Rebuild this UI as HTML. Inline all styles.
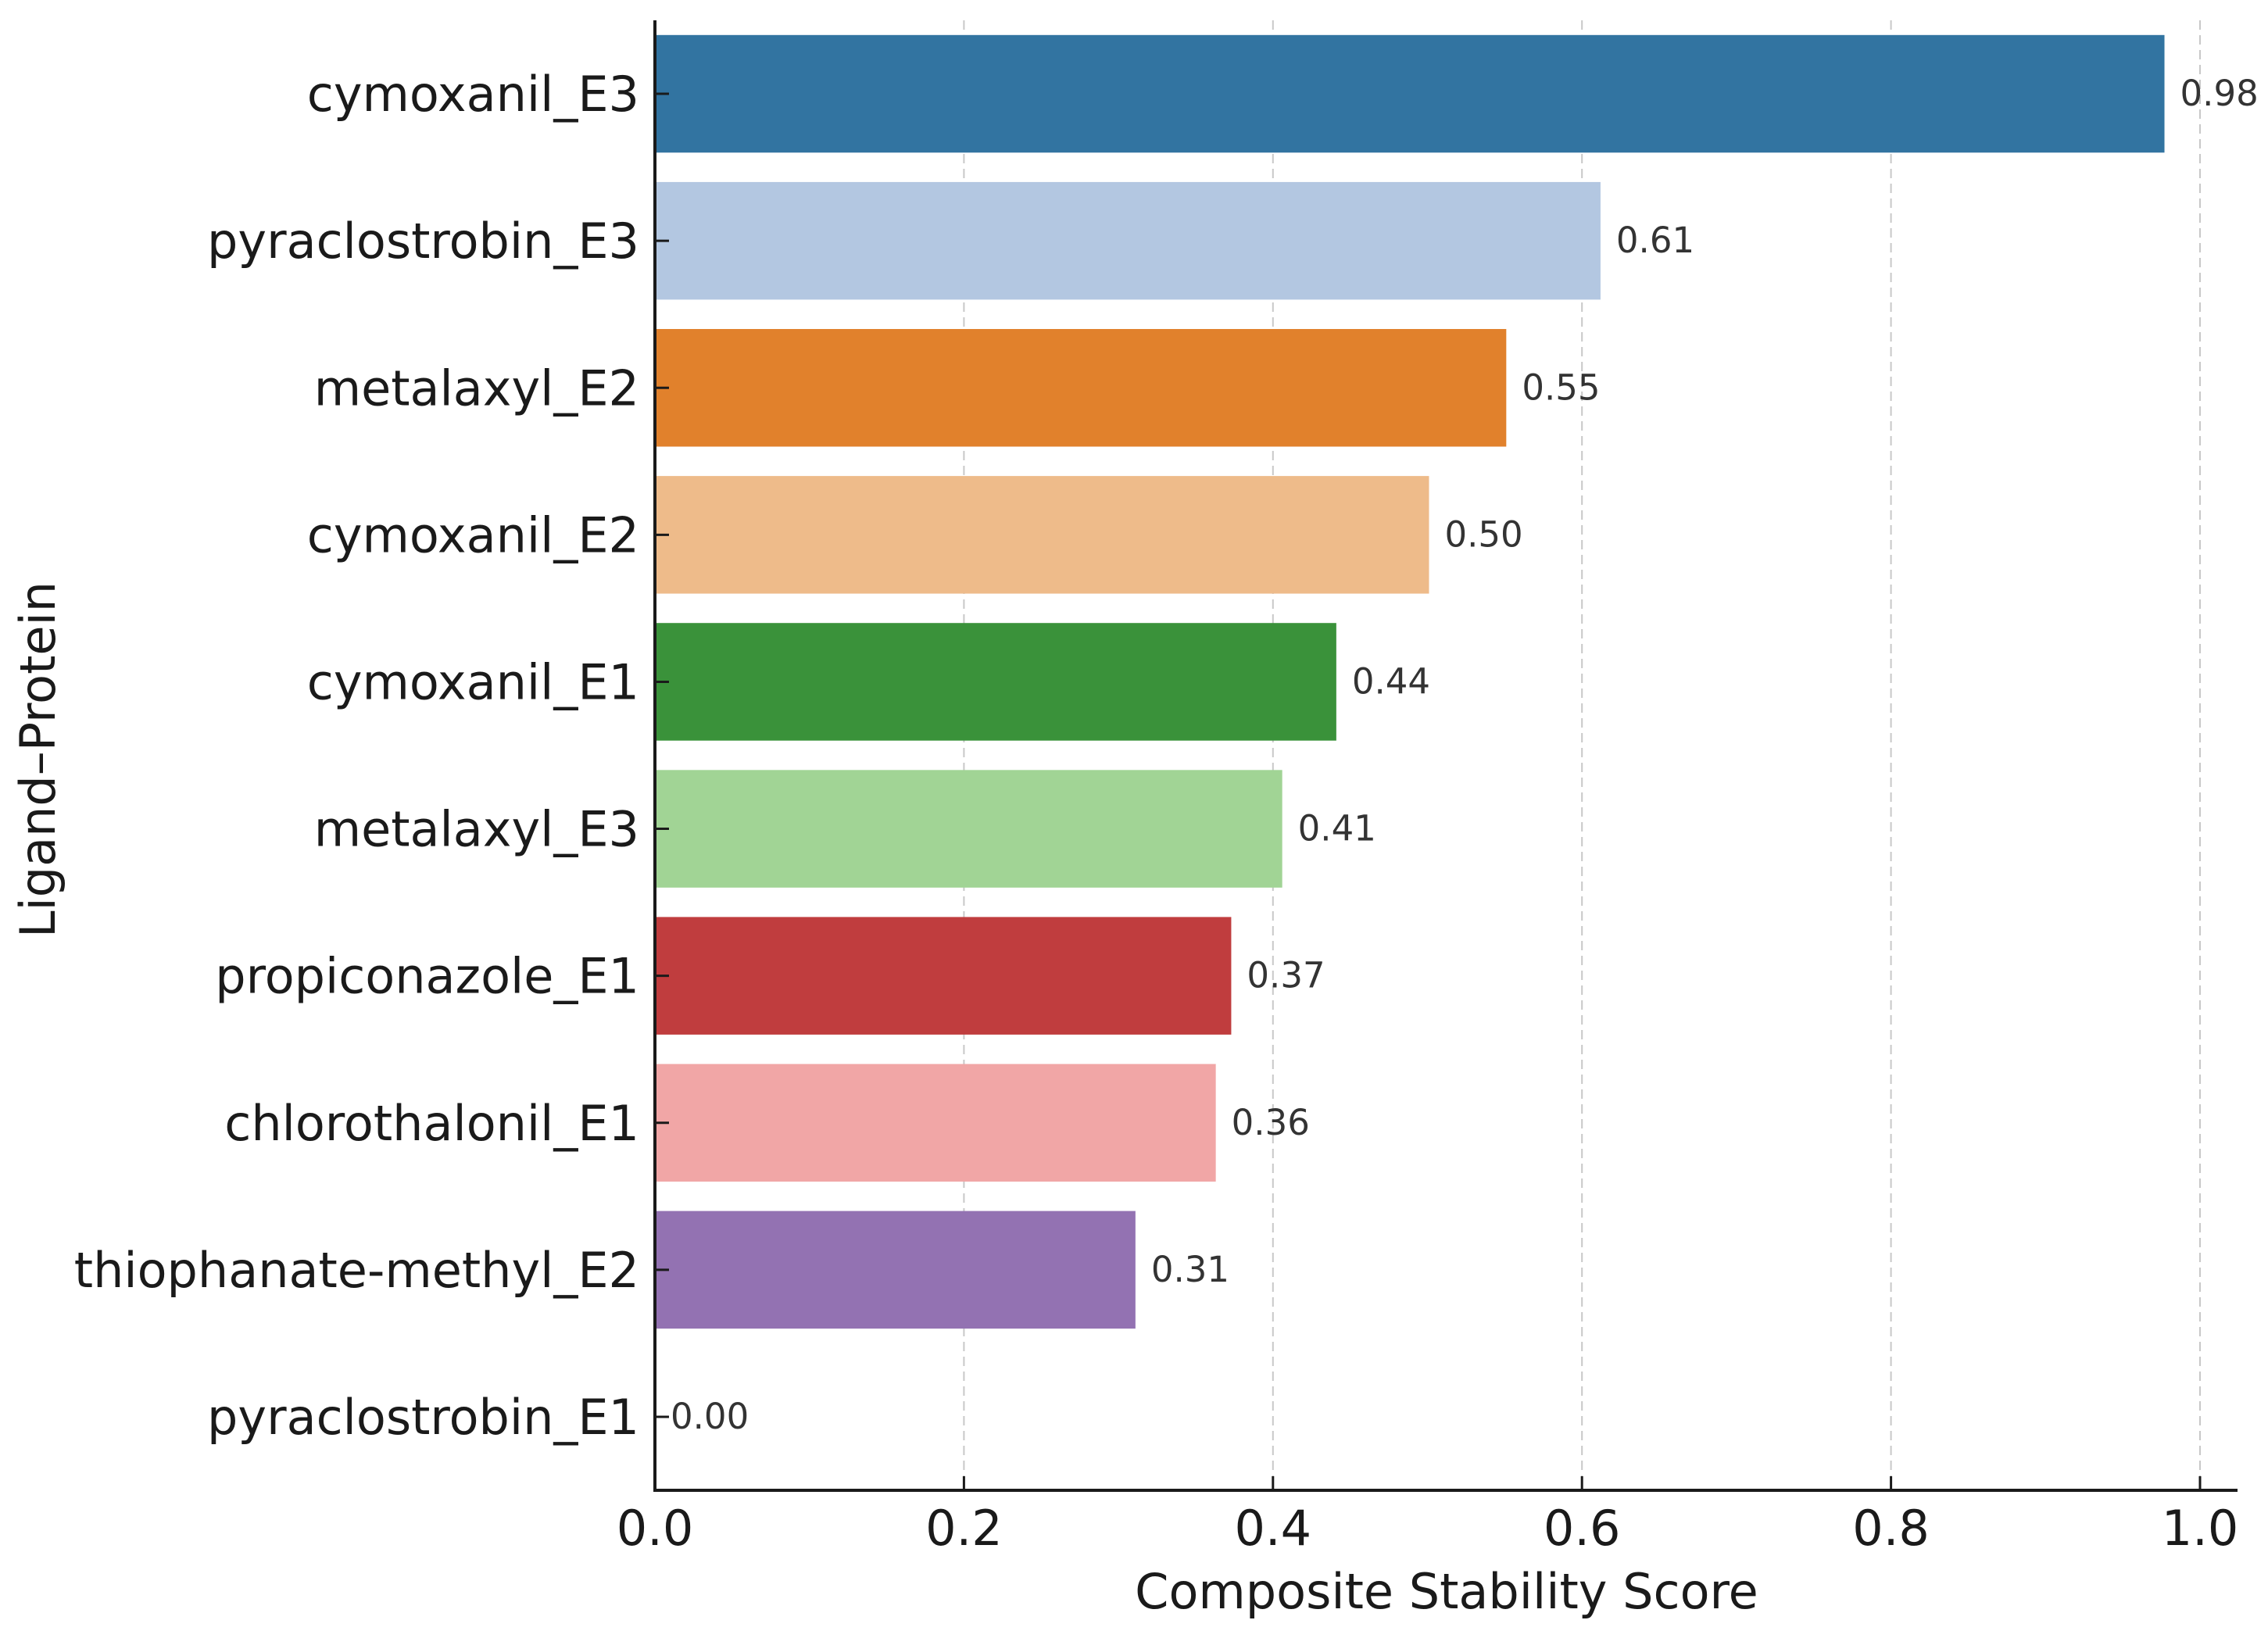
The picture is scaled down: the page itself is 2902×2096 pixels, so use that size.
<!DOCTYPE html>
<html><head><meta charset="utf-8"><style>
html,body{margin:0;padding:0;background:#fff;}
svg{display:block;font-family:"DejaVu Sans","Liberation Sans",sans-serif;}
</style></head><body>
<svg id="chart" width="2902" height="2096" viewBox="0 0 2902 2096" xmlns="http://www.w3.org/2000/svg"></svg>
<script>
const categories = ["cymoxanil_E3","pyraclostrobin_E3","metalaxyl_E2","cymoxanil_E2","cymoxanil_E1","metalaxyl_E3","propiconazole_E1","chlorothalonil_E1","thiophanate-methyl_E2","pyraclostrobin_E1"];
const values = [0.977,0.612,0.551,0.501,0.441,0.406,0.373,0.363,0.311,0.0];
const colors = ["#3274A1","#B3C7E1","#E1812C","#EEBB8A","#3A923A","#A1D495","#C03D3E","#F1A6A6","#9372B2","#C8B3D6"];
const xTicks = [0,0.2,0.4,0.6,0.8,1.0];
const xTickLabels = ["0.0","0.2","0.4","0.6","0.8","1.0"];

const NS="http://www.w3.org/2000/svg";
const svg=document.getElementById('chart');
const L=838, R=2863, T=26, B=1907, X1=2815;
const xs=v=>L+(X1-L)*v;
const band=(B-T)/categories.length;
const yc=i=>T+band*(i+0.5);
function mk(tag,attrs,parent){const e=document.createElementNS(NS,tag);for(const k in attrs)e.setAttribute(k,attrs[k]);(parent||svg).appendChild(e);return e;}

xTicks.forEach((t,i)=>{
  const g=mk('line',{x1:xs(t),x2:xs(t),y1:T,y2:B,stroke:'#c8c8c8','stroke-width':2,'stroke-dasharray':'12,7'});
  
  
});
categories.forEach((c,i)=>{
  const h=band*0.8;
  const r=mk('rect',{x:L,y:yc(i)-h/2,width:Math.max(0,xs(values[i])-L),height:h,fill:colors[i]});
  
  
  const vt=mk('text',{x:xs(values[i])+20,y:yc(i)+15,'font-size':45,fill:'#333'});
  vt.textContent=values[i].toFixed(2);
  
  
  const lt=mk('text',{x:818,y:yc(i)+22,'font-size':62,'text-anchor':'end',fill:'#1a1a1a'});
  lt.textContent=c;
  
  
  const tk=mk('line',{x1:L,x2:L+18,y1:yc(i),y2:yc(i),stroke:'#1a1a1a','stroke-width':3});
  
  
});
xTicks.forEach((t,i)=>{
  const tk=mk('line',{x1:xs(t),x2:xs(t),y1:B,y2:B-18,stroke:'#1a1a1a','stroke-width':3});
  
  
  const tl=mk('text',{x:xs(t),y:1977,'font-size':62,'text-anchor':'middle',fill:'#1a1a1a'});
  tl.textContent=xTickLabels[i];
  
  
});
const ya=mk('line',{x1:L,x2:L,y1:T,y2:B+2,stroke:'#1a1a1a','stroke-width':4});


const xa=mk('line',{x1:L-2,x2:R,y1:B,y2:B,stroke:'#1a1a1a','stroke-width':4});


const xt=mk('text',{x:1851,y:2058,'font-size':62,'text-anchor':'middle',fill:'#1a1a1a'});
xt.textContent='Composite Stability Score';


const yt=mk('text',{x:0,y:0,'font-size':62,'text-anchor':'middle',fill:'#1a1a1a',transform:'translate(70,972) rotate(-90)'});
yt.textContent='Ligand–Protein';


</script>
</body></html>
